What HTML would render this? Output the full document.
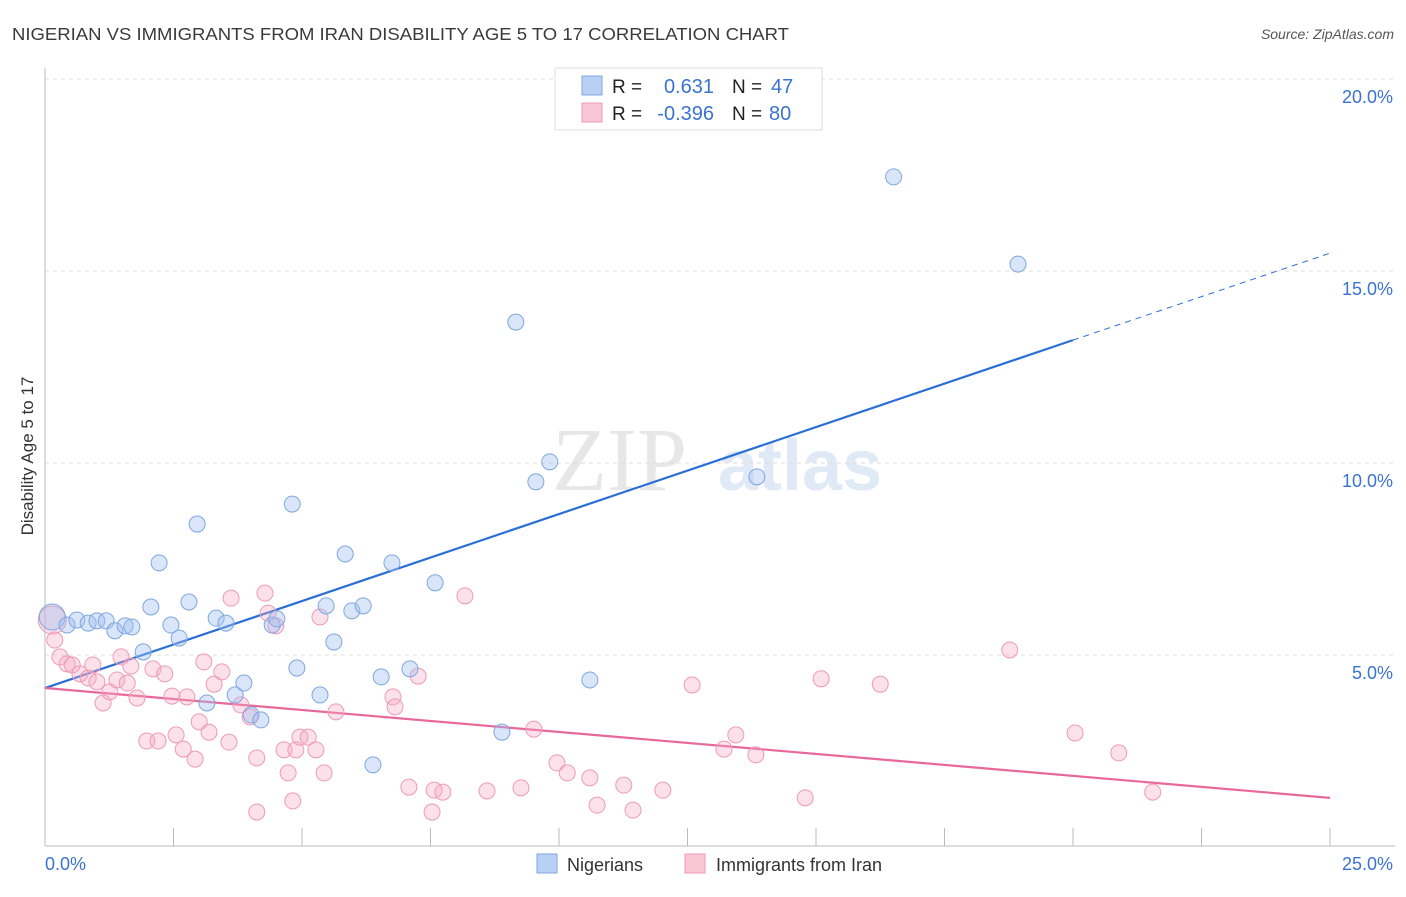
<!DOCTYPE html>
<html><head><meta charset="utf-8"><style>
body{margin:0;background:#fff;font-family:"Liberation Sans",sans-serif;}
</style></head><body>
<svg id="chart" width="1406" height="892" xmlns="http://www.w3.org/2000/svg" font-family="Liberation Sans, sans-serif">
<text x="12" y="40" font-size="17.5" fill="#3a3a3a" textLength="777" lengthAdjust="spacingAndGlyphs">NIGERIAN VS IMMIGRANTS FROM IRAN DISABILITY AGE 5 TO 17 CORRELATION CHART</text>
<text x="1394" y="39" font-size="14" fill="#555" font-style="italic" text-anchor="end">Source: ZipAtlas.com</text>
<text transform="translate(33,456) rotate(-90)" font-size="17" fill="#333" text-anchor="middle">Disability Age 5 to 17</text>
<g opacity="0.35">
<text x="552" y="490" font-size="90" fill="#bbb" font-family="Liberation Serif, serif">ZIP</text>
<text x="718" y="490" font-size="72" fill="#a9c2e8" font-weight="bold">atlas</text>
</g>
<g id="grid"></g><g id="axes"></g><g id="lines"></g><g id="pts"></g>
<g>
<rect x="555" y="68" width="267" height="62" fill="#fff" stroke="#ddd"/>
<rect x="582" y="76" width="20" height="19" fill="#b8d0f4" stroke="#7fa7e0"/>
<rect x="582" y="103" width="20" height="19" fill="#f8c6d5" stroke="#ef9ab5"/>
<text x="612" y="93" font-size="19" fill="#222">R =</text>
<text x="714" y="93" font-size="20" fill="#3a73d0" text-anchor="end">0.631</text>
<text x="732" y="93" font-size="19" fill="#222">N =</text>
<text x="771" y="93" font-size="20" fill="#3a73d0">47</text>
<text x="612" y="120" font-size="19" fill="#222">R =</text>
<text x="714" y="120" font-size="20" fill="#3a73d0" text-anchor="end">-0.396</text>
<text x="732" y="120" font-size="19" fill="#222">N =</text>
<text x="769" y="120" font-size="20" fill="#3a73d0">80</text>
</g>
<g>
<rect x="537" y="854" width="20" height="19" fill="#b8d0f4" stroke="#7fa7e0"/>
<text x="567" y="871" font-size="18" fill="#333">Nigerians</text>
<rect x="685" y="854" width="20" height="19" fill="#f8c6d5" stroke="#ef9ab5"/>
<text x="716" y="871" font-size="18" fill="#333">Immigrants from Iran</text>
</g>
</svg>
<script>
const xTicks=[0,2.5,5,7.5,10,12.5,15,17.5,20,22.5,25];
const yTicks=[5,10,15,20];
const yTickLabels=["5.0%","10.0%","15.0%","20.0%"];
const blueX=[0.14,0.43,0.62,0.84,1.01,1.19,1.36,1.56,1.69,1.91,2.06,2.22,2.45,2.61,2.80,2.96,3.15,3.33,3.52,3.70,3.87,4.01,4.20,4.42,4.51,4.81,4.90,5.35,5.47,5.62,5.84,5.97,6.19,6.38,6.54,6.75,7.10,7.59,8.89,9.16,9.55,9.82,10.60,13.85,16.51,18.93];
const blueY=[5.99,5.78,5.91,5.83,5.89,5.89,5.63,5.76,5.73,5.08,6.25,7.40,5.78,5.44,6.38,8.41,3.75,5.96,5.83,3.96,4.27,3.44,3.31,5.78,5.94,8.93,4.66,3.96,6.28,5.34,7.63,6.15,6.28,2.14,4.43,7.40,4.64,6.88,2.99,13.67,9.51,10.03,4.35,9.64,17.45,15.18];
const pinkX=[0.14,0.19,0.29,0.43,0.53,0.68,0.84,0.93,1.01,1.13,1.26,1.40,1.48,1.60,1.67,1.79,1.98,2.10,2.20,2.33,2.47,2.55,2.69,2.76,2.92,3.00,3.09,3.19,3.29,3.44,3.58,3.62,3.81,3.99,4.12,4.12,4.28,4.34,4.49,4.65,4.73,4.82,4.88,4.96,5.12,5.27,5.35,5.43,5.66,6.77,6.81,7.08,7.26,7.53,7.57,7.74,8.17,8.60,9.26,9.51,9.96,10.16,10.60,10.74,11.26,11.44,12.02,12.59,13.21,13.44,13.83,14.79,15.10,16.25,18.77,20.04,20.89,21.55];
const pinkY=[5.91,5.39,4.95,4.77,4.74,4.51,4.40,4.74,4.30,3.75,4.04,4.35,4.95,4.27,4.71,3.88,2.76,4.64,2.76,4.51,3.93,2.92,2.55,3.91,2.29,3.26,4.82,2.99,4.24,4.56,2.73,6.48,3.70,3.39,0.91,2.32,6.61,6.09,5.76,2.53,1.93,1.20,2.53,2.86,2.86,2.53,5.99,1.93,3.52,3.91,3.65,1.56,4.45,0.91,1.48,1.43,6.54,1.46,1.54,3.07,2.19,1.93,1.80,1.09,1.61,0.96,1.48,4.22,2.55,2.92,2.40,1.28,4.38,4.24,5.13,2.97,2.45,1.43];
const blueFit=[4.14,0.453];
const pinkFit=[4.14,-0.1144];
const NS="http://www.w3.org/2000/svg";
const X=v=>45+v*(1285/25), Y=v=>847-v*38.4;
function mk(p,t,a){const e=document.createElementNS(NS,t);for(const k in a)e.setAttribute(k,a[k]);document.getElementById(p).appendChild(e);return e;}
yTicks.forEach((t,i)=>{
 const g=mk('grid','line',{x1:45,x2:1395,y1:Y(t),y2:Y(t),stroke:'#ddd','stroke-dasharray':'4,4'});
 
 
 const l=mk('grid','text',{x:1393,y:Y(t)+24,'font-size':18,fill:'#3a73d0','text-anchor':'end'});l.textContent=yTickLabels[i];
 
 
});
const ax=mk('axes','line',{x1:45,x2:45,y1:68,y2:846,stroke:'#bbb'});


const bx=mk('axes','line',{x1:45,x2:1395,y1:846,y2:846,stroke:'#bbb'});


xTicks.forEach(t=>{const k=mk('axes','line',{x1:X(t),x2:X(t),y1:828,y2:846,stroke:'#bbb'});
 
 });
const xl0=mk('axes','text',{x:45,y:870,'font-size':18,fill:'#3a73d0'});xl0.textContent='0.0%';


const xl1=mk('axes','text',{x:1393,y:870,'font-size':18,fill:'#3a73d0','text-anchor':'end'});xl1.textContent='25.0%';


function dot(x,y,r,fill,stroke,name){const c=mk('pts','circle',{cx:X(x),cy:Y(y),r:r,fill:fill,stroke:stroke,'stroke-width':1});
 
 }
pinkX.forEach((x,i)=>dot(x,pinkY[i],i==0?14:8,'rgba(245,170,195,0.35)','#ef9ab5','iran-point'));
blueX.forEach((x,i)=>dot(x,blueY[i],i==0?13:8,'rgba(160,190,240,0.4)','#7fa7e0','nigerian-point'));
const b1=mk('lines','line',{x1:X(0),y1:Y(blueFit[0]),x2:X(20),y2:Y(blueFit[0]+20*blueFit[1]),stroke:'#2a6fd6','stroke-width':2.2});


const b2=mk('lines','line',{x1:X(20),y1:Y(blueFit[0]+20*blueFit[1]),x2:X(25),y2:Y(blueFit[0]+25*blueFit[1]),stroke:'#2a6fd6','stroke-width':1,'stroke-dasharray':'6,5'});


const p1=mk('lines','line',{x1:X(0),y1:Y(pinkFit[0]),x2:X(25),y2:Y(pinkFit[0]+25*pinkFit[1]),stroke:'#e8689a','stroke-width':2.2});


</script>
</body></html>
